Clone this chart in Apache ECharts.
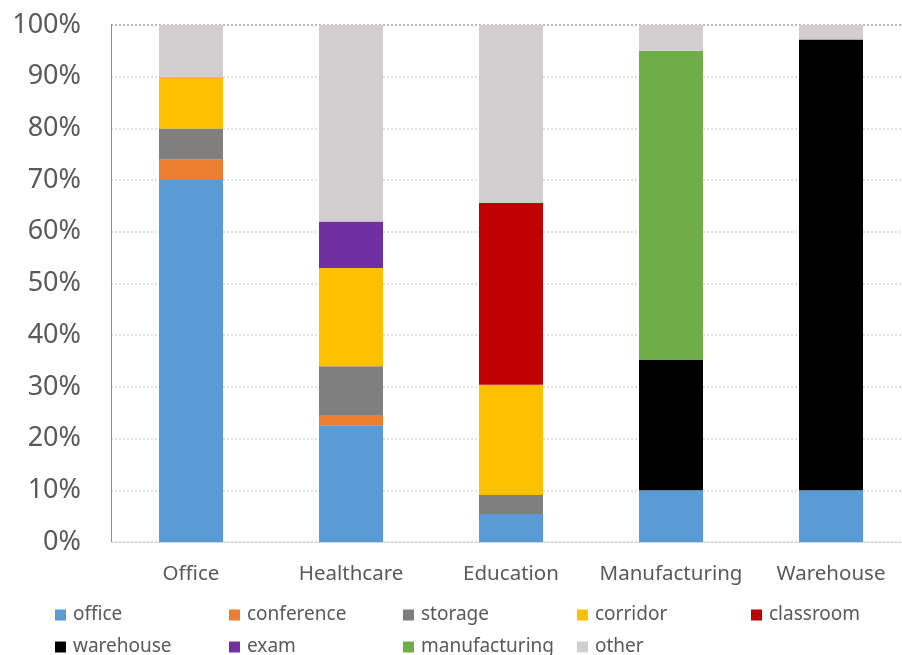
<!DOCTYPE html>
<html>
<head>
<meta charset="utf-8">
<script src="https://cdn.jsdelivr.net/npm/echarts@6.0.0/dist/echarts.min.js"></script>
<style>
html, body { margin: 0; padding: 0; background: #ffffff; overflow: hidden; }
/* plot area runs a few px past the right edge of the window, as in the original */
#chart { width: 911px; height: 655px; }
</style>
</head>
<body>
<div id="chart"></div>
<script>
// building types on the x axis
var categories = ['Office', 'Healthcare', 'Education', 'Manufacturing', 'Warehouse'];
// y axis ticks (percent)
var yTicks = [0, 10, 20, 30, 40, 50, 60, 70, 80, 90, 100];

// share of floor area per space type, percent
var office        = [70, 22.6, 5.4, 10, 10];
var conference    = [4, 1.8, 0, 0, 0];
var storage       = [6, 9.6, 3.7, 0, 0];
var corridor      = [10, 19, 21.3, 0, 0];
var classroom     = [0, 0, 35.2, 0, 0];
var warehouse     = [0, 0, 0, 25.2, 87.2];
var exam          = [0, 9, 0, 0, 0];
var manufacturing = [0, 0, 0, 59.8, 0];
var other         = [10, 38, 34.4, 5, 2.8];

var seriesNames = ['office', 'conference', 'storage', 'corridor', 'classroom',
                   'warehouse', 'exam', 'manufacturing', 'other'];
var seriesData = [office, conference, storage, corridor, classroom,
                  warehouse, exam, manufacturing, other];
var colors = ['#5B9BD5', '#ED7D31', '#7F7F7F', '#FFC000', '#C00000',
              '#000000', '#7030A0', '#70AD47', '#D0CECE'];

var font = '"Noto Sans", "Open Sans", sans-serif';
var textGrey = '#595959';

var chart = echarts.init(document.getElementById('chart'));

function legendRow(names, top) {
    return {
        data: names,
        orient: 'horizontal',
        left: 55,
        top: top,
        width: 900,
        padding: 0,
        itemWidth: 11,
        itemHeight: 11,
        itemGap: 0,
        icon: 'rect',
        selectedMode: false,
        textStyle: {
            fontFamily: font,
            fontSize: 19,
            color: textGrey,
            width: 156,
            lineHeight: 22,
            padding: [0, 0, 0, 2]
        }
    };
}

var series = [];
for (var i = 0; i < seriesNames.length; i++) {
    series.push({
        name: seriesNames[i],
        type: 'bar',
        stack: 'total',
        barWidth: 64,
        data: seriesData[i],
        itemStyle: { color: colors[i] },
        emphasis: { disabled: true }
    });
}

// last grid line (100%) is darker than the rest
var splitColors = [];
for (var k = 0; k < yTicks.length; k++) {
    splitColors.push(k === yTicks.length - 1 ? '#A6A6A6' : '#D9D9D9');
}

var option = {
    animation: false,
    color: colors,
    grid: {
        left: 111,
        right: 0,
        top: 25,
        bottom: 113,
        containLabel: false
    },
    legend: [
        legendRow(seriesNames.slice(0, 5), 604),
        legendRow(seriesNames.slice(5), 636)
    ],
    xAxis: {
        type: 'category',
        data: categories,
        axisTick: { show: false },
        axisLine: { show: true, lineStyle: { color: '#D9D9D9', width: 1 } },
        axisLabel: {
            interval: 0,
            fontFamily: font,
            fontSize: 20.5,
            color: textGrey,
            margin: 22
        }
    },
    yAxis: {
        type: 'value',
        min: 0,
        max: 100,
        interval: 10,
        axisLine: { show: true, lineStyle: { color: '#8C8C8C', width: 1 } },
        axisTick: { show: false },
        axisLabel: {
            fontFamily: font,
            fontSize: 27,
            color: textGrey,
            margin: 30,
            formatter: function (v) { return v + '%'; }
        },
        splitLine: {
            show: true,
            lineStyle: { color: splitColors, type: [2, 2], width: 1.5 }
        }
    },
    series: series
};

chart.setOption(option);
</script>
</body>
</html>
